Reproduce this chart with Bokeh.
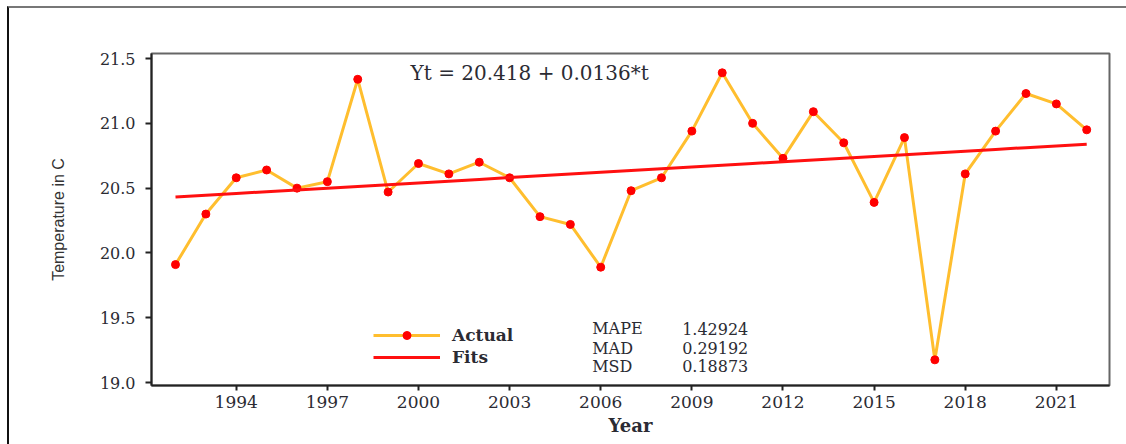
from bokeh.plotting import figure
from bokeh.layouts import column
from bokeh.models import (ColumnDataSource, FixedTicker, Legend, LegendItem,
                          Label, NumeralTickFormatter)
from bokeh.embed import file_html
from bokeh.resources import INLINE

# Annual mean temperature (°C) and a linear trend model
years = list(range(1992, 2023))
temps = [19.91, 20.30, 20.58, 20.64, 20.50, 20.55, 21.34, 20.47, 20.69, 20.61,
         20.70, 20.58, 20.28, 20.22, 19.89, 20.48, 20.58, 20.94, 21.39, 21.00,
         20.73, 21.09, 20.85, 20.39, 20.89, 19.175, 20.61, 20.94, 21.23, 21.15,
         20.95]
intercept = 20.418
slope = 0.0136
t_index = list(range(1, len(years) + 1))
fits = [intercept + slope * t for t in t_index]

x_ticks = [1994, 1997, 2000, 2003, 2006, 2009, 2012, 2015, 2018, 2021]
y_ticks = [19.0, 19.5, 20.0, 20.5, 21.0, 21.5]
stat_names = ["MAPE", "MAD", "MSD"]
stat_values = ["1.42924", "0.29192", "0.18873"]

src = ColumnDataSource(dict(year=years, temp=temps, fit=fits))

SERIF = "DejaVu Serif"
INK = "#2b2b33"

p = figure(width=1117, height=436, output_backend="svg", toolbar_location=None,
           x_range=(1991.21, 2022.75), y_range=(18.977, 21.539),
           min_border_left=142, min_border_right=17,
           min_border_top=45, min_border_bottom=59,
           background_fill_color="white", border_fill_color="white")

p.xgrid.visible = False
p.ygrid.visible = False
p.outline_line_color = "#666666"
p.outline_line_width = 2

# axes
p.xaxis.ticker = FixedTicker(ticks=x_ticks)
p.yaxis.ticker = FixedTicker(ticks=y_ticks)
p.yaxis.formatter = NumeralTickFormatter(format="0.0")
for ax in (p.xaxis[0], p.yaxis[0]):
    ax.axis_line_color = "#222222"
    ax.axis_line_width = 2
    ax.major_tick_line_color = "#222222"
    ax.major_tick_line_width = 2
    ax.major_tick_in = 0
    ax.minor_tick_line_color = None
    ax.major_label_text_font = SERIF
    ax.major_label_text_color = INK

p.xaxis.major_tick_out = 5
p.xaxis.major_label_text_font_size = "17px"
p.xaxis.major_label_standoff = 5
p.xaxis.axis_label = "Year"
p.xaxis.axis_label_text_font = SERIF
p.xaxis.axis_label_text_font_style = "bold"
p.xaxis.axis_label_text_font_size = "18px"
p.xaxis.axis_label_text_color = INK
p.xaxis.axis_label_standoff = 4

p.yaxis.major_tick_out = 6
p.yaxis.major_label_text_font_size = "16px"
p.yaxis.major_label_standoff = 10
p.yaxis.axis_label = "Temperature in C"
p.yaxis.axis_label_text_font = "Liberation Sans"
p.yaxis.axis_label_text_font_style = "normal"
p.yaxis.axis_label_text_font_size = "16px"
p.yaxis.axis_label_text_color = "#333333"
p.yaxis.axis_label_standoff = 30

# series
actual_line = p.line("year", "temp", source=src, line_color="#FFBE2E", line_width=3)
actual_pts = p.scatter("year", "temp", source=src, marker="circle", size=8,
                       fill_color="#FF0000", line_color="#FF0000")
fit_line = p.line("year", "fit", source=src, line_color="#FF1010", line_width=3)

legend = Legend(items=[LegendItem(label="Actual", renderers=[actual_line, actual_pts]),
                       LegendItem(label="Fits", renderers=[fit_line])],
                location=(222, 18), padding=0, margin=0, spacing=2,
                glyph_width=67, glyph_height=20, label_standoff=12,
                label_text_font=SERIF, label_text_font_style="bold",
                label_text_font_size="17px", label_text_color=INK,
                background_fill_alpha=0, border_line_color=None)
p.add_layout(legend)

# trend equation
p.add_layout(Label(x=1999.74, y=21.392, text=f"Yt = {intercept} + {slope}*t",
                   text_font=SERIF, text_font_size="20px", text_color=INK,
                   text_baseline="middle", text_align="left"))

# accuracy measures
stat_rows_y = [19.414, 19.265, 19.126]
for name, val, yy in zip(stat_names, stat_values, stat_rows_y):
    p.add_layout(Label(x=2005.72, y=yy, text=name, text_font=SERIF,
                       text_font_size="16px", text_color=INK,
                       text_baseline="middle"))
    p.add_layout(Label(x=2008.68, y=yy, text=val, text_font=SERIF,
                       text_font_size="16px", text_color=INK,
                       text_baseline="middle"))

# outer panel with left and top border edges
panel = column(p, styles={"margin-left": "7px", "margin-top": "6px",
                          "border-left": "2px solid #111111",
                          "border-top": "2px solid #777777"})

open("out.html", "w").write(file_html(panel, INLINE))
